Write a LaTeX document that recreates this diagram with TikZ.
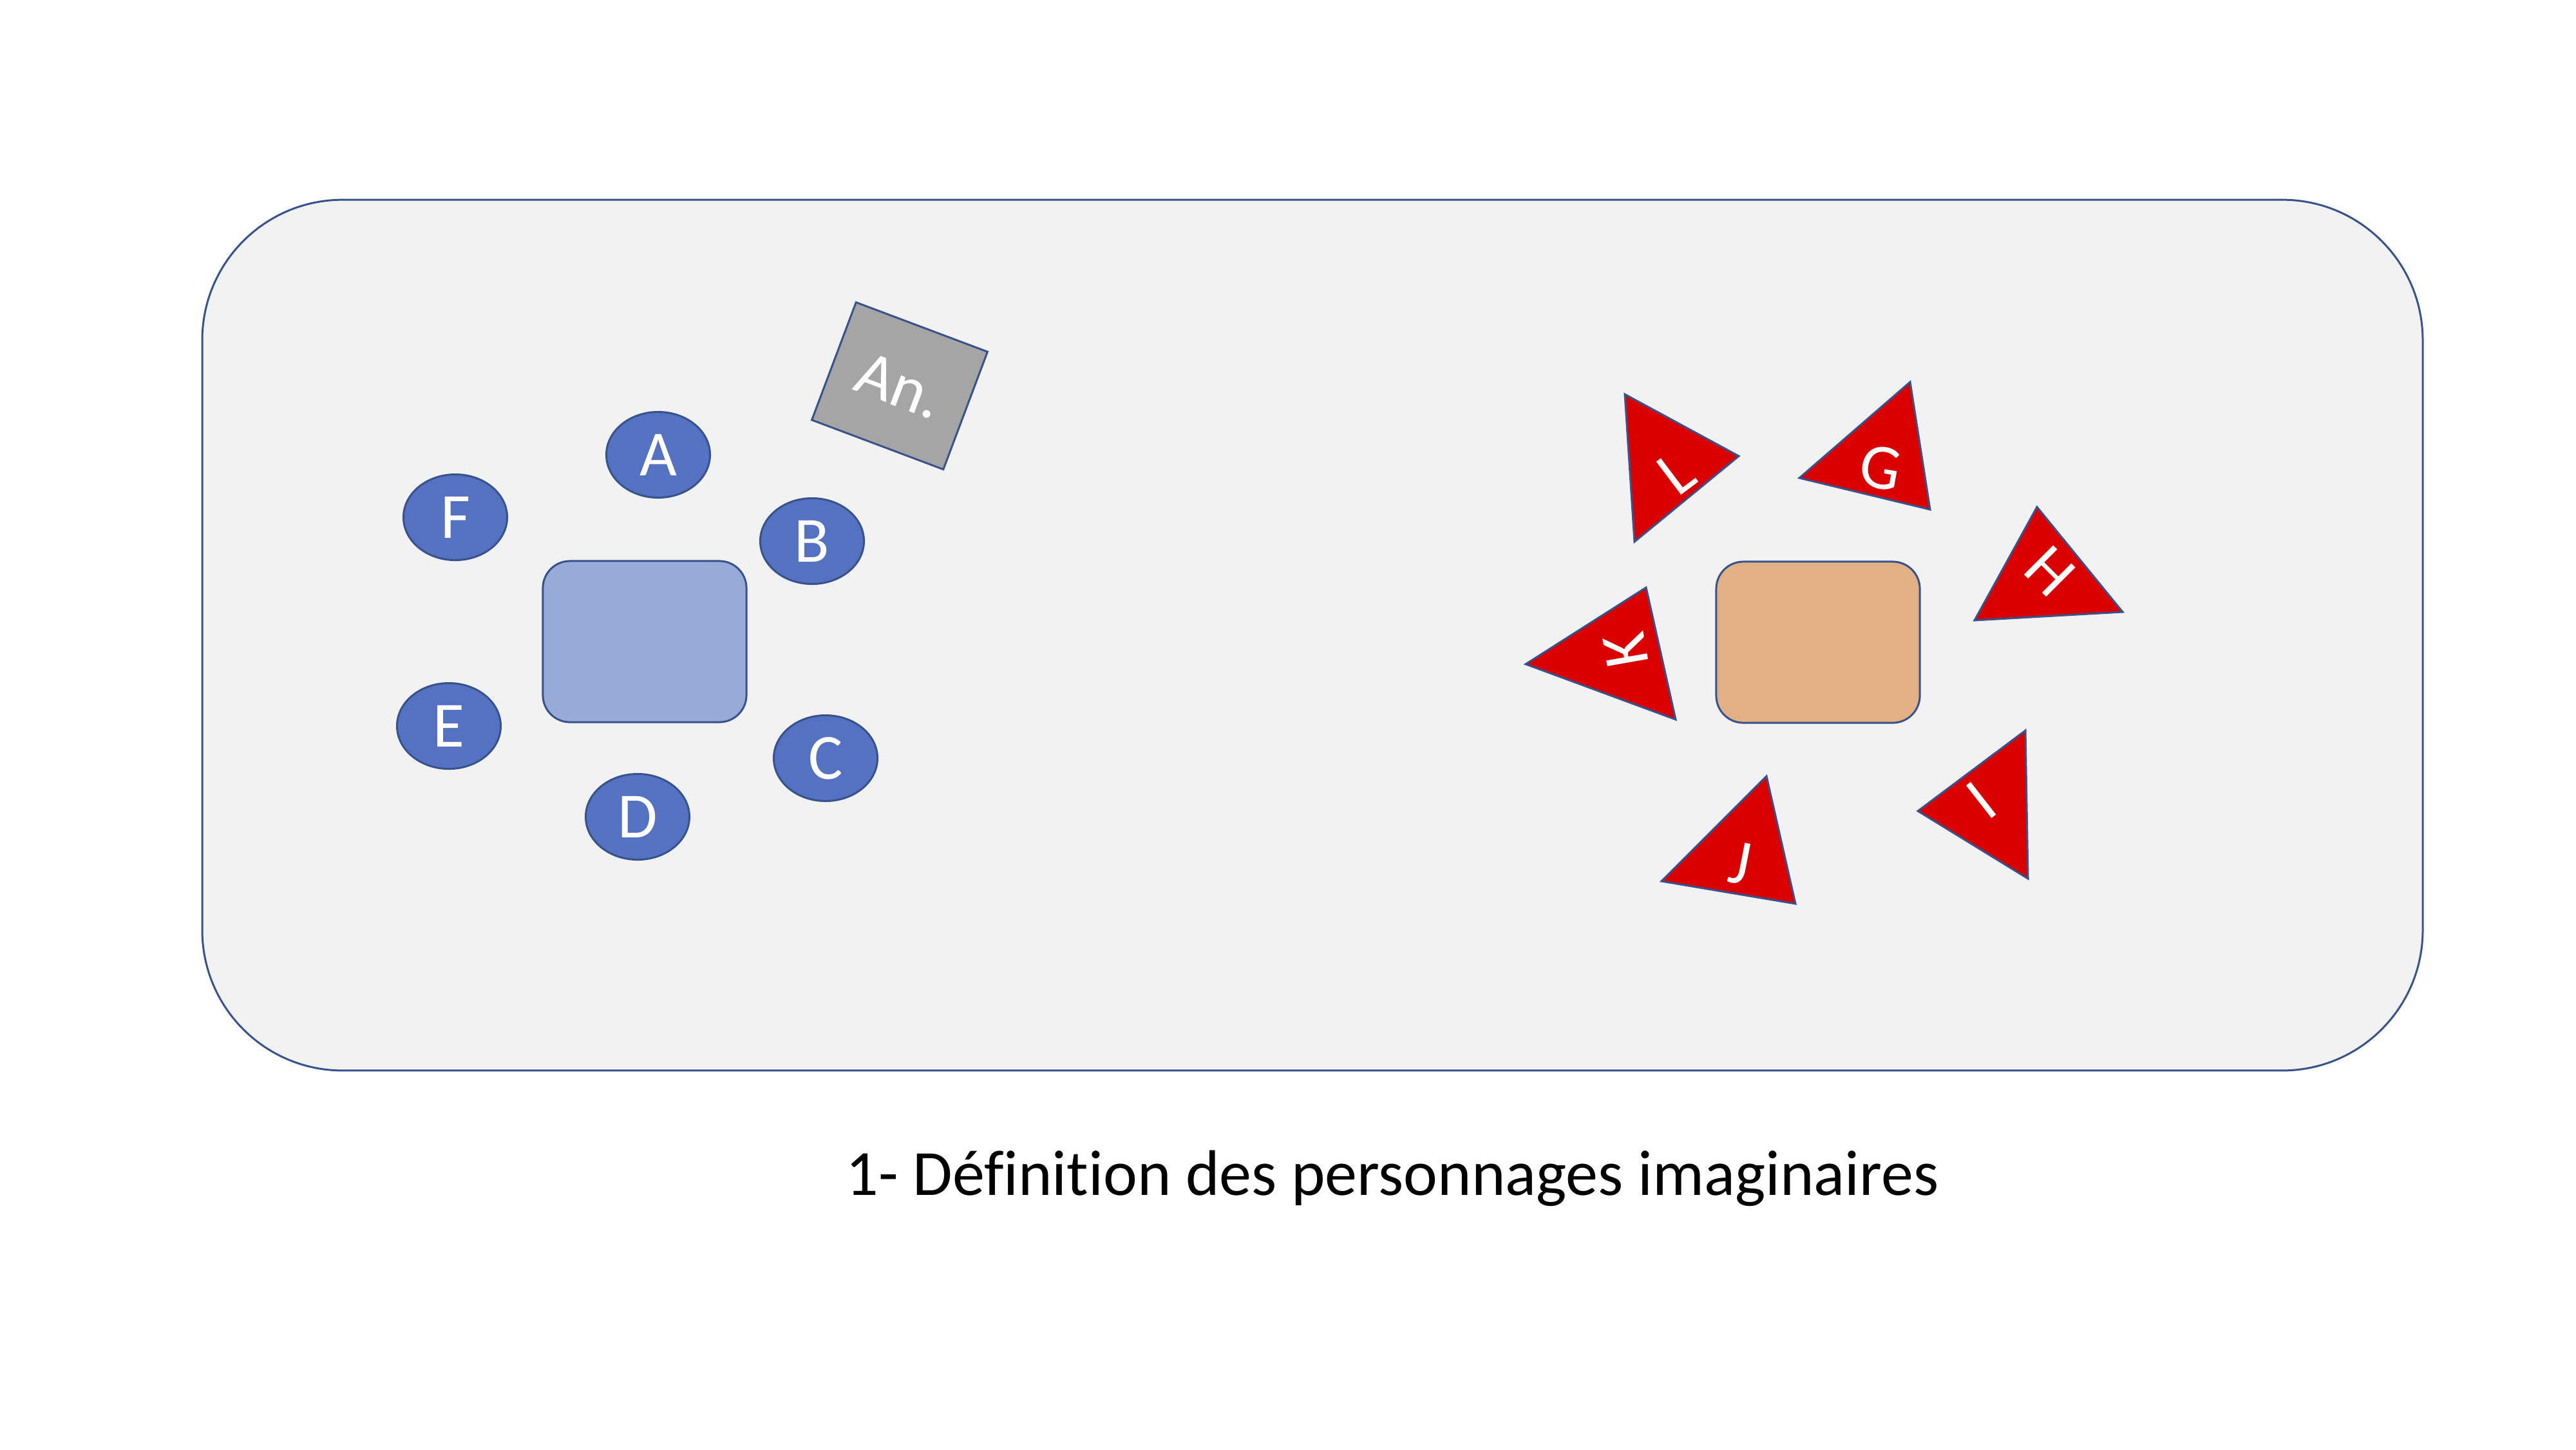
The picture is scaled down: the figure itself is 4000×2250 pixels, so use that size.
\documentclass[tikz,border=0pt]{standalone}
\usepackage{fontspec}
\setmainfont{Carlito}[Ligatures=NoCommon]
\usetikzlibrary{shapes.geometric}

\definecolor{framebg}{RGB}{242,242,242}
\definecolor{edgeblue}{RGB}{56,82,140}
\definecolor{seatblue}{RGB}{84,114,193}
\definecolor{deskblue}{RGB}{151,170,216}
\definecolor{deskorange}{RGB}{226,176,133}
\definecolor{angray}{RGB}{165,165,165}
\definecolor{trired}{RGB}{218,0,0}

\newcommand{\slidefont}{\fontsize{28.45}{34}\selectfont}

\tikzset{
  frame/.style={draw=edgeblue, fill=framebg, line width=0.85pt,
    rounded corners=2.18cm, minimum width=34.46cm, minimum height=13.51cm, inner sep=0pt},
  desk/.style={draw=edgeblue, line width=0.85pt, rounded corners=0.42cm,
    minimum width=3.16cm, minimum height=2.50cm, inner sep=0pt},
  seat/.style={ellipse, draw=edgeblue, fill=seatblue, line width=0.85pt,
    minimum width=1.61cm, minimum height=1.33cm, inner sep=0pt,
    text=white, font=\slidefont},
  anbox/.style={draw=edgeblue, fill=angray, line width=0.85pt,
    minimum width=2.18cm, minimum height=1.95cm, inner sep=0pt,
    text=white, font=\slidefont},
  redtri/.style={draw=edgeblue, fill=trired, line width=0.85pt},
  trilabel/.style={text=white, font=\slidefont, inner sep=0pt}
}

\begin{document}
\begin{tikzpicture}[x=0.01cm, y=-0.01cm]

  \fill[white] (0,0) rectangle (4000,2250);
  \useasboundingbox (0,0) rectangle (4000,2250);

  % Frame
  \node[frame] (frame) at (2038,986) {};

  % Left group: table, seats and the observer
  \node[desk, fill=deskblue] (deskl) at (1001,996) {};
  \node[seat] (a) at (1022,706)  {A};
  \node[seat] (b) at (1261,840)  {B};
  \node[seat] (c) at (1282,1177) {C};
  \node[seat] (d) at (990,1268)  {D};
  \node[seat] (e) at (697,1127)  {E};
  \node[seat] (f) at (707,803)   {F};
  \node[anbox, rotate=-20.6] (an) at (1397,599) {An.};

  % Right group: table and triangles
  \node[desk, fill=deskorange] (deskr) at (2823,997) {};

  \draw[redtri] (2966,593) -- (2997,791) -- (2794,742) -- cycle;
  \node[trilabel, rotate=-10] (g) at (2920,726) {G};

  \draw[redtri] (3163,787) -- (3296,950) -- (3066,963) -- cycle;
  \node[trilabel, rotate=-45] (h) at (3183,887) {H};

  \draw[redtri] (3145,1134) -- (3149,1364) -- (2978,1259) -- cycle;
  \node[trilabel, rotate=38] (i) at (3077,1242) {I};

  \draw[redtri] (2743,1205) -- (2788,1403) -- (2580,1368) -- cycle;
  \node[trilabel, rotate=-11] (j) at (2702,1340) {J};

  \draw[redtri] (2556,912) -- (2602,1117) -- (2369,1031) -- cycle;
  \node[trilabel, rotate=100] (k) at (2524,1009) {K};

  \draw[redtri] (2523,612) -- (2700,708) -- (2538,841) -- cycle;
  \node[trilabel, rotate=37] (l) at (2603,734) {L};

  % Caption
  \node[font=\slidefont, anchor=base, inner sep=0pt] (caption) at (2162,1855)
    {1- Définition des personnages imaginaires};

\end{tikzpicture}
\end{document}
